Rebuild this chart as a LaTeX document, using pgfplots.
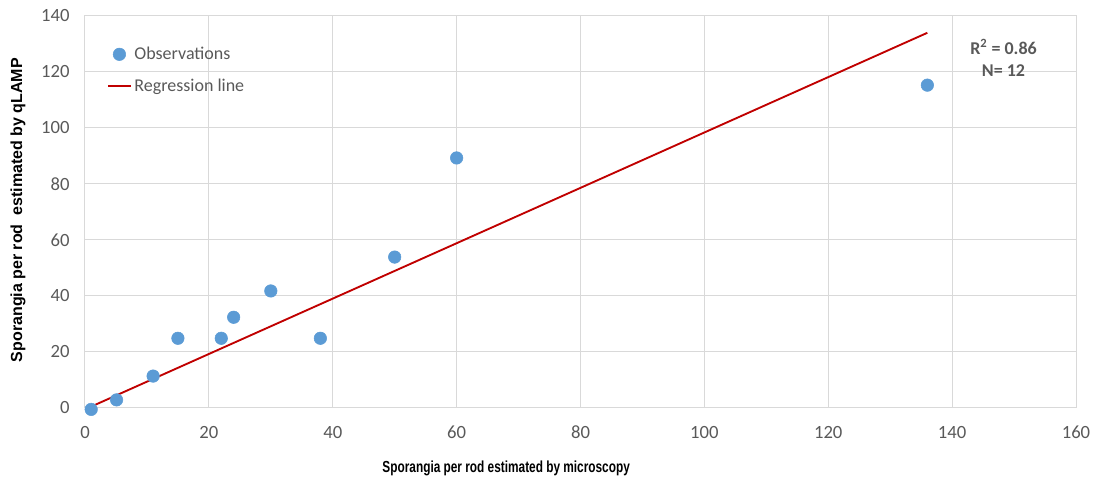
\documentclass[border=0pt]{standalone}
\usepackage{pgfplots}
\pgfplotsset{compat=1.18}
\usepackage{fontspec}
\setmainfont{Carlito}
\newfontfamily\labfont[FakeStretch=0.74]{Liberation Sans}
\newfontfamily\ylabfont{Liberation Sans}
\usetikzlibrary{shadows}
\definecolor{gridc}{HTML}{D9D9D9}
\definecolor{tickc}{HTML}{595959}
\definecolor{dotc}{HTML}{5B9BD5}
\definecolor{regc}{HTML}{C00000}
\begin{document}
\begin{tikzpicture}
\begin{axis}[
  at={(0,0)}, anchor=south west,
  scale only axis, width=743.25pt, height=294pt,
  xmin=0, xmax=160, ymin=0, ymax=140,
  xtick={0,20,...,160}, ytick={0,20,...,140},
  grid=major, major grid style={gridc, line width=0.75pt},
  axis line style={gridc, line width=0.75pt},
  tick style={draw=none},
  ticklabel style={font=\fontsize{14}{16}\selectfont, text=tickc},
  /pgf/number format/assume math mode=true,
  xticklabel style={yshift=-10pt},
  yticklabel style={xshift=-8pt},
  xlabel={\labfont\bfseries\fontsize{12}{14}\selectfont Sporangia per rod estimated by microscopy},
  ylabel={\ylabfont\bfseries\fontsize{12}{14}\selectfont Sporangia per rod\ \ estimated by qLAMP},
  xlabel style={at={(axis description cs:0.425,0)}, anchor=north, yshift=-36pt},
  ylabel style={at={(axis description cs:0,0.505)}, anchor=south, yshift=41pt},
  clip=false,
  legend style={draw=none, fill=none, at={(axis description cs:0.018,0.935)}, anchor=north west,
    font=\fontsize{13.5}{15}\selectfont, text=tickc, row sep=9pt,
    legend cell align=left},
]
\addplot[only marks, mark=*, mark size=4.7pt, draw=dotc, fill=dotc,
  mark options={draw=dotc, fill=dotc, drop shadow={shadow xshift=0.6pt, shadow yshift=-0.9pt, opacity=0.3}}]
  coordinates {
  (1,-0.5) (5.1,2.9) (11,11.4) (15,24.9) (22,24.9) (24,32.4)
  (30,41.8) (38,24.9) (50,53.9) (60,89.3) (136,115.3)
};
\addlegendentry{Observations}
\addplot[regc, line width=1.4pt] coordinates {(1,0.5) (136,134)};
\addlegendentry{Regression line}
\node[font=\bfseries\fontsize{13.5}{17}\selectfont, text=tickc, align=center] at (axis cs:148.3,125)
  {R\textsuperscript{2} = 0.86\\N= 12};
\end{axis}
\useasboundingbox (-63.75pt,-57pt) rectangle (757.5pt,306pt);
\end{tikzpicture}
\end{document}
